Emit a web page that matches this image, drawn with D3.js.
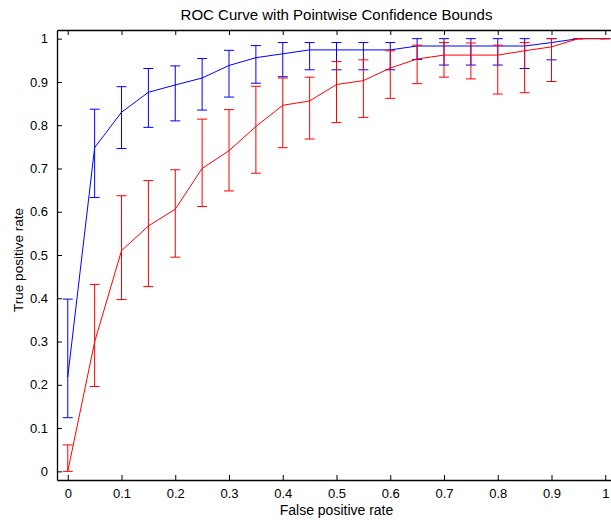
<!DOCTYPE html>
<html>
<head>
<meta charset="utf-8">
<script src="https://cdn.jsdelivr.net/npm/d3@7"></script>
<style>
  body { margin: 0; background: #fff; }
  text { font-family: "Liberation Sans", Arial, sans-serif; fill: #000; }
</style>
</head>
<body>
<div id="chart"></div>
<script>
// false positive rate grid shared by both curves
const fpr = [0, 0.05, 0.1, 0.15, 0.2, 0.25, 0.3, 0.35, 0.4, 0.45, 0.5,
             0.55, 0.6, 0.65, 0.7, 0.75, 0.8, 0.85, 0.9, 0.95, 1];

// blue curve with its bounds
const tprBlue = [0.218, 0.748, 0.830, 0.876, 0.893, 0.909, 0.938, 0.956, 0.965, 0.974, 0.974,
                 0.974, 0.974, 0.983, 0.983, 0.983, 0.983, 0.983, 0.991, 1, 1];
const loBlue  = [0.124, 0.633, 0.746, 0.795, 0.810, 0.835, 0.865, 0.897, 0.912, 0.928, 0.928,
                 0.928, 0.928, 0.952, 0.939, 0.939, 0.939, 0.931, 0.951, 1, 1];
const hiBlue  = [0.398, 0.837, 0.889, 0.931, 0.937, 0.954, 0.973, 0.984, 0.991, 0.991, 0.991,
                 0.991, 0.991, 1, 1, 1, 1, 1, 1, 1, 1];

// red curve with its bounds
const tprRed = [0, 0.299, 0.510, 0.567, 0.606, 0.700, 0.741, 0.797, 0.846, 0.856, 0.894,
                0.903, 0.932, 0.953, 0.962, 0.962, 0.962, 0.972, 0.981, 1, 1];
const loRed  = [0, 0.196, 0.397, 0.427, 0.495, 0.612, 0.648, 0.689, 0.748, 0.768, 0.806,
                0.818, 0.862, 0.896, 0.911, 0.907, 0.872, 0.875, 0.901, 1, 1];
const hiRed  = [0.061, 0.432, 0.637, 0.672, 0.697, 0.814, 0.836, 0.890, 0.909, 0.911, 0.947,
                0.951, 0.972, 0.985, 0.991, 0.990, 0.985, 0.991, 1, 1, 1];

const xTicks = [0, 0.1, 0.2, 0.3, 0.4, 0.5, 0.6, 0.7, 0.8, 0.9, 1];
const yTicks = [0, 0.1, 0.2, 0.3, 0.4, 0.5, 0.6, 0.7, 0.8, 0.9, 1];

const width = 611, height = 520;
const plotLeft = 57, plotRight = 616, plotTop = 30, plotBottom = 480;

const svg = d3.select("#chart").append("svg")
    .attr("width", width).attr("height", height);

const x = d3.scaleLinear().domain([-0.02, 1.02]).range([plotLeft, plotRight]);
const y = d3.scaleLinear().domain([-0.02, 1.02]).range([plotBottom, plotTop]);

const fmt = d => d === 0 || d === 1 ? String(d) : d.toFixed(1);

// axes, matlab style with inward ticks on all four sides
const tickLen = 5;
svg.append("g").attr("transform", "translate(0," + plotBottom + ")")
    .call(d3.axisBottom(x).tickValues(xTicks).tickFormat(fmt).tickSizeInner(-tickLen).tickSizeOuter(0).tickPadding(9));
svg.append("g").attr("transform", "translate(0," + plotTop + ")")
    .call(d3.axisTop(x).tickValues(xTicks).tickFormat("").tickSizeInner(-tickLen).tickSizeOuter(0));
svg.append("g").attr("transform", "translate(" + plotLeft + ",0)")
    .call(d3.axisLeft(y).tickValues(yTicks).tickFormat(fmt).tickSizeInner(-tickLen).tickSizeOuter(0).tickPadding(9));
svg.append("g").attr("transform", "translate(" + plotRight + ",0)")
    .call(d3.axisRight(y).tickValues(yTicks).tickFormat("").tickSizeInner(-tickLen).tickSizeOuter(0));

svg.selectAll(".tick text").style("font-size", "13px").style("font-family", "'Liberation Sans', Arial, sans-serif");
svg.selectAll(".domain").attr("stroke", "#000").attr("stroke-width", 1.3);
svg.selectAll(".tick line").attr("stroke", "#000");

svg.append("defs").append("clipPath").attr("id", "plotclip")
    .append("rect").attr("x", plotLeft).attr("y", plotTop - 10)
    .attr("width", plotRight - plotLeft).attr("height", plotBottom - plotTop + 20);

const plot = svg.append("g").attr("clip-path", "url(#plotclip)");

const drawSeries = (tpr, lo, hi, color) => {
    const pts = fpr.map((f, i) => ({ f: f, t: tpr[i], lo: lo[i], hi: hi[i] }));
    const g = plot.append("g").attr("stroke", color).attr("fill", "none").attr("stroke-width", 1);
    g.append("path").datum(pts)
        .attr("d", d3.line().x(d => x(d.f)).y(d => y(d.t)));
    const bars = g.selectAll(".eb").data(pts).enter().append("g").attr("class", "eb");
    bars.append("line").attr("x1", d => x(d.f)).attr("x2", d => x(d.f))
        .attr("y1", d => y(d.lo)).attr("y2", d => y(d.hi));
    bars.append("line").attr("x1", d => x(d.f) - 5).attr("x2", d => x(d.f) + 5)
        .attr("y1", d => y(d.lo)).attr("y2", d => y(d.lo));
    bars.append("line").attr("x1", d => x(d.f) - 5).attr("x2", d => x(d.f) + 5)
        .attr("y1", d => y(d.hi)).attr("y2", d => y(d.hi));
};

drawSeries(tprBlue, loBlue, hiBlue, "#0000ff");
drawSeries(tprRed, loRed, hiRed, "#ff0000");

// labels
svg.append("text").attr("x", (plotLeft + plotRight) / 2).attr("y", 20)
    .attr("text-anchor", "middle").style("font-size", "15px")
    .text("ROC Curve with Pointwise Confidence Bounds");
svg.append("text").attr("x", (plotLeft + plotRight) / 2).attr("y", 515)
    .attr("text-anchor", "middle").style("font-size", "14px")
    .text("False positive rate");
svg.append("text").attr("transform", "translate(23,260) rotate(-90)")
    .attr("text-anchor", "middle").style("font-size", "13.5px")
    .text("True positive rate");
</script>
</body>
</html>
